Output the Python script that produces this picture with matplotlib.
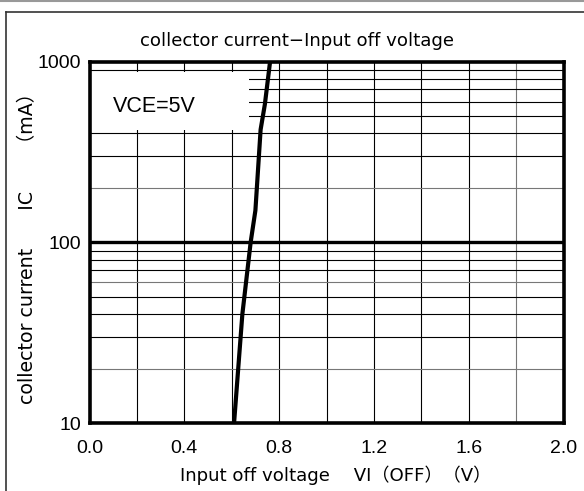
import matplotlib
matplotlib.use("Agg")
import matplotlib.pyplot as plt
from matplotlib.lines import Line2D
from matplotlib.patches import Rectangle
from matplotlib.ticker import NullLocator

# Data
voltage = [0.61, 0.645, 0.68, 0.70, 0.722, 0.74, 0.762]
current = [10, 40, 100, 150, 420, 580, 1000]
xticks = [0.0, 0.4, 0.8, 1.2, 1.6, 2.0]
xtick_labels = ["0.0", "0.4", "0.8", "1.2", "1.6", "2.0"]
yticks = [10, 100, 1000]
ytick_labels = ["10", "100", "1000"]
title = "collector current\u2212Input off voltage"
xlabel = "Input off voltage\u3000 VI\uff08OFF\uff09\uff08V\uff09"
ylabel = "collector current\u3000\u3000IC\u3000\u3000\uff08mA\uff09"
note = "VCE=5V"

W, H = 584, 491
lab = ["DejaVu Sans", "Noto Sans CJK JP"]
arial = ["Liberation Sans", "DejaVu Sans"]

fig = plt.figure(figsize=(W / 100, H / 100), dpi=100)
ax = fig.add_axes([89.5 / W, 1 - 423 / H, (563.5 - 89.5) / W, (423 - 61.5) / H])
ax.set_yscale("log")
ax.set_xlim(0, 2.0)
ax.set_ylim(10, 1000)

# grid lines
gray_x = [1.8]
for i in range(1, 10):
    xv = round(i * 0.2, 3)
    ax.axvline(xv, color="#777777" if xv in gray_x else "black", lw=0.8, zorder=1)
gray_y = [20, 60, 200]
for dec in [10, 100]:
    for m in range(2, 10):
        yv = dec * m
        ax.axhline(yv, color="#777777" if yv in gray_y else "black", lw=0.8, zorder=1)
ax.axhline(100, color="black", lw=2.4, zorder=2)

# white box for note
ax.add_patch(Rectangle((0.0, 420), 0.675, 460, transform=ax.transData,
                       facecolor="white", edgecolor="none", zorder=3))
ax.text(0.1, 565, note, fontsize=15.5, family=arial, va="center", ha="left", zorder=4)

ax.plot(voltage, current, color="black", lw=3, zorder=5, solid_capstyle="butt")

for s in ax.spines.values():
    s.set_linewidth(2.6)
    s.set_zorder(6)

ax.set_xticks(xticks)
ax.set_xticklabels(xtick_labels, family=arial, fontsize=14)
ax.set_yticks(yticks)
ax.set_yticklabels(ytick_labels, family=arial, fontsize=14)
ax.yaxis.set_minor_locator(NullLocator())
ax.tick_params(axis="both", length=0)
ax.tick_params(axis="x", pad=12)
ax.tick_params(axis="y", pad=6)

t_title = fig.text(296.5 / W, 1 - 41 / H, title, family=lab, fontsize=12,
                   ha="center", va="center")

# fit title size to the reference extent
fig.canvas.draw()
r = fig.canvas.get_renderer()
bb = t_title.get_window_extent(r)
fs = t_title.get_fontsize() * 313 / bb.width
t_title.set_fontsize(fs)

t_x = fig.text(180 / W, 1 - 475 / H, xlabel, family=lab, fontsize=fs,
               ha="left", va="center")
t_y = fig.text(28 / W, 1 - 404 / H, ylabel, family=lab, fontsize=fs * 1.05,
               ha="center", va="bottom", rotation=90)

# outer frame lines
fig.add_artist(Line2D([0, 1], [1 - 1 / H, 1 - 1 / H], color="#999999", lw=1.5,
                      transform=fig.transFigure))
fig.add_artist(Line2D([6 / W, 1], [1 - 12 / H, 1 - 12 / H], color="#333333", lw=1.2,
                      transform=fig.transFigure))
fig.add_artist(Line2D([6 / W, 6 / W], [0, 1 - 12 / H], color="#333333", lw=1.2,
                      transform=fig.transFigure))

fig.savefig("out.png", dpi=100)
